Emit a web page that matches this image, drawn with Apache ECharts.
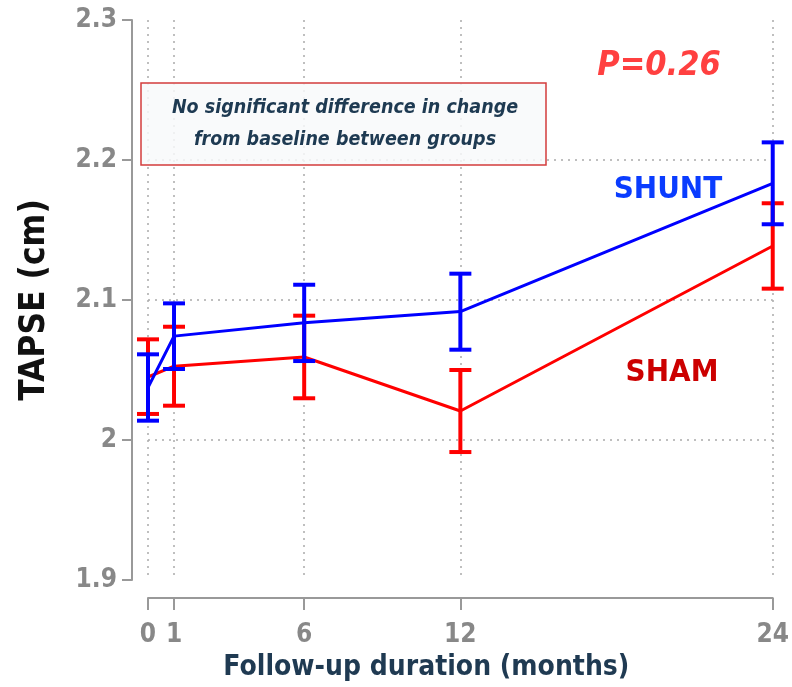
<!DOCTYPE html>
<html>
<head>
<meta charset="utf-8">
<script src="https://cdn.jsdelivr.net/npm/echarts@6/dist/echarts.min.js"></script>
<style>
  html, body { margin: 0; padding: 0; background: #fff; }
  #chart { width: 792px; height: 687px; }
</style>
</head>
<body>
<div id="chart"></div>
<script>
const months = [0, 1, 6, 12, 24];
const xTicks = [0, 1, 6, 12, 24];

const shuntMean = [2.0375, 2.0742, 2.0837, 2.0917, 2.1833];
const shuntLow  = [2.0138, 2.0507, 2.0564, 2.0645, 2.1541];
const shuntHigh = [2.0612, 2.0976, 2.1109, 2.1188, 2.2126];

const shamMean = [2.045, 2.0527, 2.0593, 2.0207, 2.1386];
const shamLow  = [2.0186, 2.0245, 2.0298, 1.9914, 2.1081];
const shamHigh = [2.0719, 2.0809, 2.0888, 2.0500, 2.1691];

const COND = "'Liberation Sans Narrow', 'DejaVu Sans Condensed', 'Roboto Condensed', 'Liberation Sans', sans-serif";
const BLUE = '#0000ff';
const RED = '#ff0000';

function errorBars(color) {
  return function (params, api) {
    const x = api.value(0);
    const top = api.coord([x, api.value(2)]);
    const bot = api.coord([x, api.value(1)]);
    const hw = 11;
    const style = { stroke: color, lineWidth: 4 };
    return {
      type: 'group',
      children: [
        { type: 'line', shape: { x1: top[0], y1: top[1], x2: bot[0], y2: bot[1] }, style },
        { type: 'line', shape: { x1: top[0] - hw, y1: top[1], x2: top[0] + hw, y2: top[1] }, style },
        { type: 'line', shape: { x1: bot[0] - hw, y1: bot[1], x2: bot[0] + hw, y2: bot[1] }, style }
      ]
    };
  };
}

const chart = echarts.init(document.getElementById('chart'));
chart.setOption({
  animation: false,
  grid: { left: 148, right: 19, top: 20, bottom: 107, containLabel: false },
  xAxis: {
    type: 'value',
    min: 0,
    max: 24,
    offset: 18,
    name: 'Follow-up duration (months)',
    nameLocation: 'middle',
    nameGap: 56,
    nameTextStyle: { fontFamily: COND, fontWeight: 'bold', fontSize: 28, color: '#1f3a52', padding: [0, 68, 0, 0] },
    axisLine: { show: true, onZero: false, lineStyle: { color: '#999', width: 2 } },
    axisTick: { show: true, customValues: xTicks, length: 12, lineStyle: { color: '#999', width: 2 } },
    axisLabel: { customValues: xTicks, margin: 24, fontFamily: COND, fontWeight: 'bold', fontSize: 26, color: '#888' },
    splitLine: { show: true, lineStyle: { color: '#aaa', type: [2, 5], width: 1.5 } }
  },
  yAxis: {
    type: 'value',
    min: 1.9,
    max: 2.3,
    interval: 0.1,
    offset: 16,
    name: 'TAPSE (cm)',
    nameLocation: 'middle',
    nameGap: 80,
    nameRotate: 90,
    nameTextStyle: { fontFamily: COND, fontWeight: 'bold', fontSize: 35, color: '#111' },
    axisLine: { show: true, onZero: false, lineStyle: { color: '#999', width: 2 } },
    axisTick: { show: true, length: 10, lineStyle: { color: '#999', width: 2 } },
    axisLabel: { margin: 15, fontFamily: COND, fontWeight: 'bold', fontSize: 26, color: '#888' },
    splitLine: { show: true, showMinLine: false, showMaxLine: false, lineStyle: { color: '#aaa', type: [2, 5], width: 1.5 } }
  },
  series: [
    {
      name: 'SHAM',
      type: 'line',
      data: months.map((m, i) => [m, shamMean[i]]),
      symbol: 'none',
      lineStyle: { color: RED, width: 3 },
      z: 2
    },
    {
      name: 'SHAM err',
      type: 'custom',
      data: months.map((m, i) => [m, shamLow[i], shamHigh[i]]),
      renderItem: errorBars(RED),
      z: 3
    },
    {
      name: 'SHUNT',
      type: 'line',
      data: months.map((m, i) => [m, shuntMean[i]]),
      symbol: 'none',
      lineStyle: { color: BLUE, width: 3 },
      z: 4
    },
    {
      name: 'SHUNT err',
      type: 'custom',
      data: months.map((m, i) => [m, shuntLow[i], shuntHigh[i]]),
      renderItem: errorBars(BLUE),
      z: 5
    }
  ],
  graphic: [
    {
      type: 'rect',
      shape: { x: 141, y: 83, width: 405, height: 82 },
      style: { fill: 'rgba(248,249,250,0.85)', stroke: '#d43c3c', lineWidth: 1.5 },
      z: 10
    },
    {
      type: 'text',
      x: 345, y: 124,
      style: {
        text: 'No significant difference in change\nfrom baseline between groups',
        align: 'center', verticalAlign: 'middle',
        font: "italic bold 19.5px " + COND,
        lineHeight: 32,
        fill: '#1e3a52'
      },
      z: 11
    },
    {
      type: 'text',
      x: 659, y: 66,
      style: { text: 'P=0.26', align: 'center', verticalAlign: 'middle', font: "italic bold 34px " + COND, fill: '#ff4040' },
      z: 11
    },
    {
      type: 'text',
      x: 668, y: 190,
      style: { text: 'SHUNT', align: 'center', verticalAlign: 'middle', font: "bold 31px " + COND, fill: '#0a3cff' },
      z: 11
    },
    {
      type: 'text',
      x: 672, y: 373,
      style: { text: 'SHAM', align: 'center', verticalAlign: 'middle', font: "bold 31px " + COND, fill: '#cc0000' },
      z: 11
    }
  ]
});
</script>
</body>
</html>
